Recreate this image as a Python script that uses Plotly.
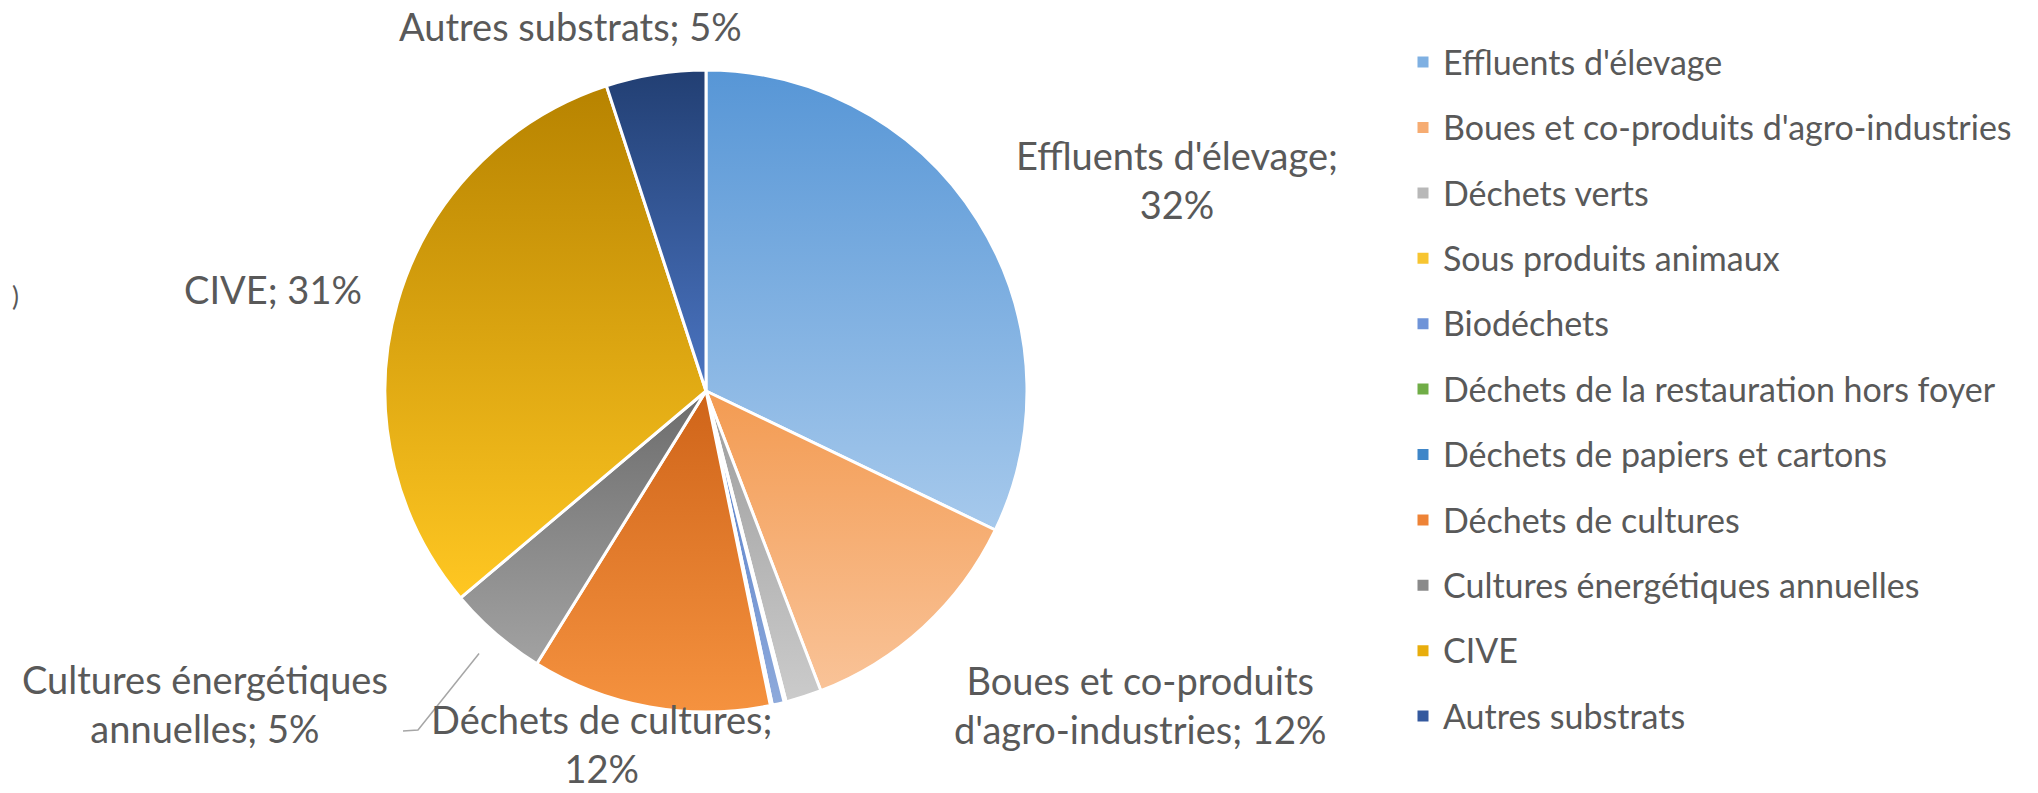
import json
import math
import plotly.graph_objects as go

# ---- data -------------------------------------------------------------
categories = [
    "Effluents d'élevage",
    "Boues et co-produits d'agro-industries",
    "Déchets verts",
    "Sous produits animaux",
    "Biodéchets",
    "Déchets de la restauration hors foyer",
    "Déchets de papiers et cartons",
    "Déchets de cultures",
    "Cultures énergétiques annuelles",
    "CIVE",
    "Autres substrats",
]
shares = [32, 12, 1.8, 0.1, 0.6, 0.05, 0.05, 12, 5, 31, 5]

# ---- styling ----------------------------------------------------------
swatch_colors = ["#7fb0e2", "#f6ac72", "#b8b8b8", "#f7c531", "#6f94d8",
                 "#70ad47", "#3f86c8", "#ee8336", "#8a8a8a", "#e8ad0c", "#34599e"]
grad_top = ["#5796d6", "#f39b52", "#9c9c9c", "#e6ac00", "#4f79c8",
            "#5e9a3a", "#2e6fae", "#cf6419", "#6c6c6c", "#b78300", "#223f73"]
grad_bottom = ["#a6c9ec", "#f9c398", "#cbcbcb", "#ffd34f", "#8eaadb",
               "#8fc46a", "#5a9ad6", "#f5923f", "#a2a2a2", "#ffc722", "#4b75c2"]

W, H = 2038, 793
CX, CY, R = 706, 391, 321          # pie centre and radius in pixels
TEXT_COLOR = "#595959"
FONT = "Lato, Carlito, Calibri, 'Open Sans', sans-serif"

# data-label placement (pixel centre of each label block, words on first line)
label_place = {
    "Effluents d'élevage": (1177, 180, 2),
    "Boues et co-produits d'agro-industries": (1140, 704, 3),
    "Déchets de cultures": (601, 743, 3),
    "Cultures énergétiques annuelles": (205, 703, 2),
    "CIVE": (273, 289, None),
    "Autres substrats": (570, 26, None),
}


def px(x):
    return x / W


def py(y):
    return 1 - y / H


total = sum(shares)

fig = go.Figure()
fig.add_trace(go.Pie(
    labels=[f"<span style='font-size:34px'>{c}</span>" for c in categories],
    values=shares,
    sort=False,
    direction="clockwise",
    rotation=0,
    textinfo="none",
    hoverinfo="percent",
    marker=dict(colors=swatch_colors, line=dict(color="white", width=3)),
    domain=dict(x=[px(CX - R), px(CX + R)], y=[py(CY + R), py(CY - R)]),
))

annotations = []
for name, (lx, ly, nfirst) in label_place.items():
    pct = round(shares[categories.index(name)] / total * 100)
    words = f"{name}; {pct}%".split(" ")
    if nfirst:
        text = " ".join(words[:nfirst]) + "<br>" + " ".join(words[nfirst:])
    else:
        text = " ".join(words)
    annotations.append(dict(
        x=px(lx), y=py(ly), xref="paper", yref="paper",
        xanchor="center", yanchor="middle", showarrow=False,
        text=text, align="center",
        font=dict(family=FONT, size=38, color=TEXT_COLOR),
    ))

# stray glyph at the left border
annotations.append(dict(
    x=px(16), y=py(296), xref="paper", yref="paper", showarrow=False,
    xanchor="center", yanchor="middle", text=")",
    font=dict(family=FONT, size=26, color=TEXT_COLOR),
))

# leader line for the "Cultures énergétiques annuelles" label
k = categories.index("Cultures énergétiques annuelles")
mid = (sum(shares[:k]) + shares[k] / 2) / total * 2 * math.pi
sx = CX + (R + 26) * math.sin(mid)
sy = CY - (R + 26) * math.cos(mid)
leader = (f"M {px(sx)},{py(sy)} L {px(418)},{py(730)} L {px(403)},{py(731)}")

fig.update_layout(
    width=W, height=H,
    margin=dict(l=0, r=0, t=0, b=0),
    paper_bgcolor="white", plot_bgcolor="white",
    font=dict(family=FONT, color=TEXT_COLOR),
    showlegend=True,
    legend=dict(
        x=px(1403), y=py(24.4), xanchor="left", yanchor="top",
        font=dict(family=FONT, size=48, color=TEXT_COLOR),
        bgcolor="rgba(0,0,0,0)", borderwidth=0,
        traceorder="normal",
    ),
    annotations=annotations,
    shapes=[dict(type="path", path=leader, xref="paper", yref="paper",
                 line=dict(color="#a6a6a6", width=1.5))],
)

# vertical gradient fill for each slice; legend text re-centred on its swatch
grads = json.dumps([[t, b] for t, b in zip(grad_top, grad_bottom)])
post = """
var gd = document.getElementById('{plot_id}');
var svg = gd.querySelector('svg.main-svg');
var ns = 'http://www.w3.org/2000/svg';
var defs = svg.querySelector('defs');
if (!defs) { defs = document.createElementNS(ns, 'defs'); svg.insertBefore(defs, svg.firstChild); }
var grads = GRADS;
gd.querySelectorAll('g.slice path.surface').forEach(function(p, i) {
  var g = document.createElementNS(ns, 'linearGradient');
  g.setAttribute('id', 'slicegrad' + i);
  g.setAttribute('x1', '0'); g.setAttribute('y1', '0');
  g.setAttribute('x2', '0'); g.setAttribute('y2', '1');
  [[0, grads[i][0]], [1, grads[i][1]]].forEach(function(s) {
    var st = document.createElementNS(ns, 'stop');
    st.setAttribute('offset', s[0]);
    st.setAttribute('stop-color', s[1]);
    g.appendChild(st);
  });
  defs.appendChild(g);
  p.style.fill = 'url(#slicegrad' + i + ')';
});
gd.querySelectorAll('g.legend text.legendtext').forEach(function(t) {
  var y = parseFloat(t.getAttribute('y') || '0');
  t.setAttribute('y', y - 6);
});
gd.querySelectorAll('g.legend path.legendpie').forEach(function(p) {
  p.setAttribute('d', 'M7,7H-7V-7H7Z');
});
""".replace("GRADS", grads)

fig.write_html("out.html", post_script=post)
